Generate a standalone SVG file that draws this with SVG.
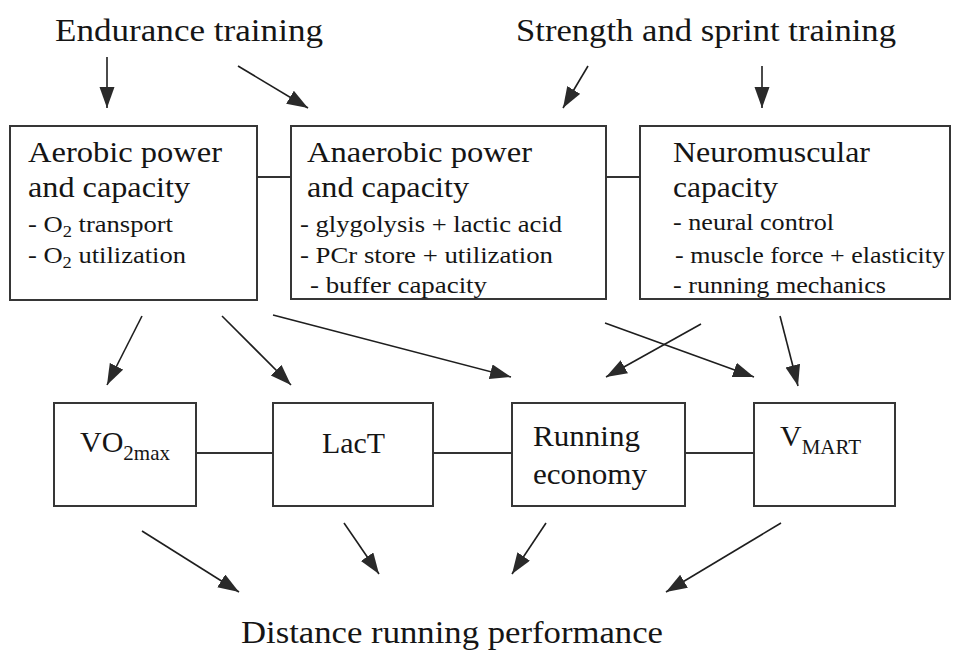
<svg xmlns="http://www.w3.org/2000/svg" width="956" height="652" viewBox="0 0 956 652">
<style>
text { font-family: "Liberation Serif", "Times New Roman", "DejaVu Serif", serif; fill: #151515; }
.title { font-size: 32px; }
.head { font-size: 30px; }
.item { font-size: 23px; }
.lbl { font-size: 30px; }
.sub { font-size: 21px; }
.box { fill: #ffffff; stroke: #363636; stroke-width: 2; }
.link { stroke: #333333; stroke-width: 1.8; fill: none; }
.arr { stroke: #1e1e1e; stroke-width: 1.6; fill: none; marker-end: url(#ah); }
</style>
<defs>
<marker id="ah" markerUnits="userSpaceOnUse" markerWidth="24" markerHeight="16" refX="21" refY="7.5" orient="auto">
<path d="M0,0 L21,7.5 L0,15 Z" fill="#2a2a2a"/>
</marker>
</defs>
<rect width="956" height="652" fill="#ffffff"/>

<g id="endurance-training">
<text class="title" x="55" y="41" textLength="268" lengthAdjust="spacingAndGlyphs">Endurance training</text>
</g>
<g id="strength-sprint-training">
<text class="title" x="516" y="41" textLength="380" lengthAdjust="spacingAndGlyphs">Strength and sprint training</text>
</g>

<g id="aerobic">
<rect class="box" x="10" y="126" width="247" height="174"/>
<text class="head" x="28" y="162" textLength="194" lengthAdjust="spacingAndGlyphs">Aerobic power</text>
<text class="head" x="28" y="197" textLength="162" lengthAdjust="spacingAndGlyphs">and capacity</text>
<text class="item" x="28" y="232" textLength="145" lengthAdjust="spacingAndGlyphs">- O<tspan dy="5" font-size="16">2</tspan><tspan dy="-5"> transport</tspan></text>
<text class="item" x="28" y="263" textLength="158" lengthAdjust="spacingAndGlyphs">- O<tspan dy="5" font-size="16">2</tspan><tspan dy="-5"> utilization</tspan></text>
</g>

<g id="anaerobic">
<rect class="box" x="291" y="126" width="315" height="173"/>
<text class="head" x="307" y="162" textLength="225" lengthAdjust="spacingAndGlyphs">Anaerobic power</text>
<text class="head" x="307" y="197" textLength="162" lengthAdjust="spacingAndGlyphs">and capacity</text>
<text class="item" x="300" y="232" textLength="262" lengthAdjust="spacingAndGlyphs">- glygolysis + lactic acid</text>
<text class="item" x="300" y="263" textLength="253" lengthAdjust="spacingAndGlyphs">- PCr store + utilization</text>
<text class="item" x="310" y="293" textLength="177" lengthAdjust="spacingAndGlyphs">- buffer capacity</text>
</g>

<g id="neuromuscular">
<rect class="box" x="640" y="126" width="310" height="173"/>
<text class="head" x="673" y="162" textLength="197" lengthAdjust="spacingAndGlyphs">Neuromuscular</text>
<text class="head" x="673" y="197" textLength="105" lengthAdjust="spacingAndGlyphs">capacity</text>
<text class="item" x="673" y="230" textLength="161" lengthAdjust="spacingAndGlyphs">- neural control</text>
<text class="item" x="675" y="263" textLength="270" lengthAdjust="spacingAndGlyphs">- muscle force + elasticity</text>
<text class="item" x="673" y="293" textLength="213" lengthAdjust="spacingAndGlyphs">- running mechanics</text>
</g>

<g id="vo2max">
<rect class="box" x="54" y="403" width="142" height="103"/>
<text class="lbl" x="80" y="452">VO<tspan class="sub" dy="8">2max</tspan></text>
</g>

<g id="lact">
<rect class="box" x="273" y="403" width="160" height="103"/>
<text class="lbl" x="322" y="453" textLength="63" lengthAdjust="spacingAndGlyphs">LacT</text>
</g>

<g id="running-economy">
<rect class="box" x="512" y="403" width="173" height="103"/>
<text class="lbl" x="533" y="446" textLength="107" lengthAdjust="spacingAndGlyphs">Running</text>
<text class="lbl" x="533" y="484" textLength="114" lengthAdjust="spacingAndGlyphs">economy</text>
</g>

<g id="vmart">
<rect class="box" x="754" y="403" width="141" height="103"/>
<text class="lbl" x="780" y="446">V<tspan class="sub" dy="8">MART</tspan></text>
</g>

<g id="distance-running-performance">
<text class="title" x="241" y="643" textLength="422" lengthAdjust="spacingAndGlyphs">Distance running performance</text>
</g>

<g id="connectors">
<line class="link" x1="257" y1="177" x2="291" y2="177"/>
<line class="link" x1="606" y1="177" x2="640" y2="177"/>
<line class="link" x1="196" y1="453" x2="273" y2="453"/>
<line class="link" x1="433" y1="453" x2="512" y2="453"/>
<line class="link" x1="685" y1="453" x2="754" y2="453"/>

<line class="arr" x1="107" y1="57" x2="107" y2="108"/>
<line class="arr" x1="238" y1="66" x2="308" y2="108"/>
<line class="arr" x1="588" y1="66" x2="563" y2="108"/>
<line class="arr" x1="762" y1="66" x2="762" y2="108"/>

<line class="arr" x1="142" y1="316" x2="107" y2="385"/>
<line class="arr" x1="222" y1="316" x2="291" y2="385"/>
<line class="arr" x1="273" y1="315" x2="511" y2="377"/>
<line class="arr" x1="701" y1="324" x2="606" y2="377"/>
<line class="arr" x1="605" y1="323" x2="754" y2="377"/>
<line class="arr" x1="780" y1="316" x2="798" y2="386"/>

<line class="arr" x1="142" y1="531" x2="239" y2="592"/>
<line class="arr" x1="344" y1="523" x2="379" y2="574"/>
<line class="arr" x1="546" y1="523" x2="512" y2="574"/>
<line class="arr" x1="781" y1="523" x2="666" y2="592"/>
</g>
</svg>
